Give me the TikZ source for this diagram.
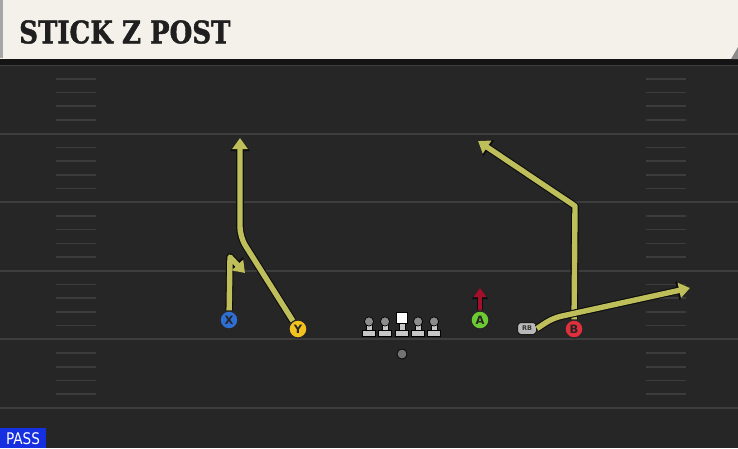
\documentclass[tikz,border=0pt]{standalone}
\usepackage{fontspec}
\usepackage{graphicx}
\setmainfont{DejaVu Sans}
\newfontfamily\titlefont[BoldFeatures={FakeBold=1.5}]{DejaVu Serif}
\usetikzlibrary{arrows.meta}

\definecolor{fieldgray}{HTML}{262626}
\definecolor{yardgray}{HTML}{3D3D3D}
\definecolor{hashgray}{HTML}{3C3C3C}
\definecolor{headercream}{HTML}{F4F1EA}
\definecolor{routeyellow}{RGB}{190,190,90}
\definecolor{blockred}{HTML}{A3102C}
\definecolor{xblue}{HTML}{2F6ED2}
\definecolor{yyellow}{HTML}{F2C21E}
\definecolor{agreen}{HTML}{6CCB32}
\definecolor{bred}{HTML}{E0303C}
\definecolor{passblue}{HTML}{1530E0}

\tikzset{
    player/.style={circle, draw=black!85, line width=1.2pt, minimum size=18pt,
        inner sep=0pt, font=\bfseries\fontsize{11.5}{11.5}\selectfont, text=black!85},
    route/.style={line width=5.4pt, draw=routeyellow, line join=round,
        -{Triangle[length=11pt,width=15pt]},
        preaction={draw=black!95, line width=7.6pt, line join=round,
            -{Triangle[length=13pt,width=18.5pt]}}},
    block/.style={line width=4.8pt, draw=blockred,
        -{Triangle[length=9pt,width=12.5pt]},
        preaction={draw=black!95, line width=6.8pt, -{Triangle[length=11pt,width=15.5pt]}}},
    lineman/.style={fill=black!22, draw=black, line width=0.7pt},
}

\begin{document}
\begin{tikzpicture}[x=1pt, y=-1pt]
    \useasboundingbox (0,0) rectangle (738,448);

    % Field
    \fill[fieldgray] (0,0) rectangle (738,448);
    \foreach \k in {0,...,5} {
        \draw[yardgray, line width=2pt] (0,65+68.6*\k) -- (738,65+68.6*\k);
    }
    \foreach \k in {0,...,4} {
        \foreach \h in {1,2,3,4} {
            \draw[hashgray, line width=1.6pt] (56,65+68.6*\k+13.72*\h) -- (96,65+68.6*\k+13.72*\h);
            \draw[hashgray, line width=1.6pt] (646,65+68.6*\k+13.72*\h) -- (686,65+68.6*\k+13.72*\h);
        }
    }

    % Header
    \fill[black!92] (0,58) rectangle (738,65);
    \fill[headercream] (0,0) rectangle (738,59);
    \fill[black!35] (0,0) rectangle (3,58);
    \fill[black!45] (731,59) -- (738,47) -- (738,59) -- cycle;
    \node[anchor=west, text=black!88, inner sep=0pt] (title) at (19,32)
        {\scalebox{0.84}[1]{\titlefont\bfseries\fontsize{31}{31}\selectfont STICK Z POST}};

    % Offensive line and ball
    \foreach \x in {369,385,418,434} {
        \draw[lineman] (\x-6.5,330) rectangle (\x+6.5,336.5);
        \draw[lineman] (\x-3,323) rectangle (\x+3,330);
        \draw[lineman, fill=black!45] (\x,321.5) circle (4.6);
    }
    \draw[lineman] (395.5,330) rectangle (408.5,336.5);
    \draw[lineman] (399,323) rectangle (405,330);
    \draw[fill=white, draw=black, line width=0.7pt] (396.5,312.5) rectangle (407.5,323.5);
    \node[circle, fill=black!55, draw=black, line width=0.7pt, minimum size=10pt, inner sep=0pt] (ball) at (402,354) {};

    % Skill players
    \node[player, fill=xblue] (X) at (229,320) {X};
    \node[player, fill=yyellow] (Y) at (298,329) {Y};
    \node[player, fill=agreen] (A) at (480,320) {A};
    \node[player, fill=bred] (B) at (574,329) {B};
    \node[rounded corners=3.5pt, fill=black!28, draw=black!90, line width=1pt,
        minimum width=19pt, minimum height=12pt, inner sep=0pt,
        font=\bfseries\fontsize{6.5}{6.5}\selectfont, text=black!80] (RB) at (527,328.5) {RB};

    % Route points
    \coordinate (xstem) at (230,257);
    \coordinate (xend) at (245,273);
    \coordinate (ybreak) at (240,237);
    \coordinate (yend) at (240,138);
    \coordinate (bbreak) at (575,206);
    \coordinate (bend) at (478,141);
    \coordinate (rbbend) at (553,318);
    \coordinate (rbend) at (690,288);
    \coordinate (aend) at (480,288);

    % Routes
    \draw[route] (X) -- (xstem) -- (xend);
    \draw[route, rounded corners=10pt] (Y) -- (ybreak) -- (yend);
    \draw[route] (B) -- (bbreak) -- (bend);
    \draw[route, rounded corners=8pt] (RB.east) -- (rbbend) -- (rbend);
    \draw[block] (A) -- (aend);

    % Play type
    \fill[passblue] (0,428) rectangle (46,448);
    \node[text=white, font=\fontsize{16}{16}\selectfont, inner sep=0pt] (pass) at (23,439)
        {\scalebox{0.85}[1]{PASS}};

\end{tikzpicture}
\end{document}
